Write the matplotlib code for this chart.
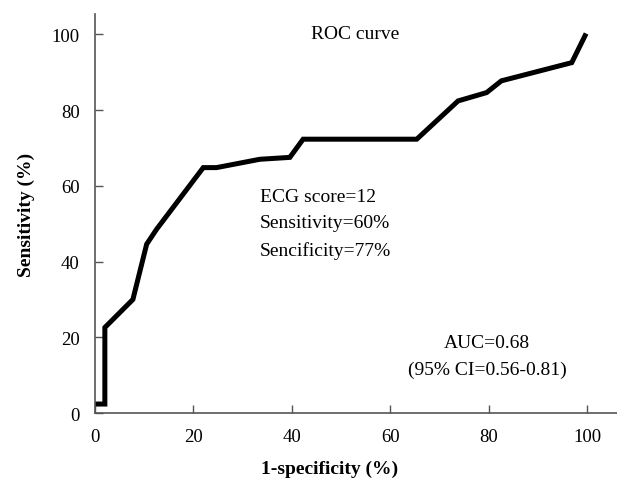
import matplotlib.pyplot as plt

# ROC curve points (1-specificity %, sensitivity %)
fpr = [0, 2.0, 2.0, 7.7, 10.5, 12.5, 22.0, 24.7, 33.5, 39.6, 42.3, 65.4, 73.8, 79.6, 82.6, 96.9, 99.6]
tpr = [2.4, 2.4, 22.6, 30.0, 44.6, 48.5, 64.8, 64.8, 67.0, 67.5, 72.3, 72.3, 82.4, 84.6, 87.7, 92.5, 99.6]

xticks = [0, 20, 40, 60, 80, 100]
yticks = [0, 20, 40, 60, 80, 100]

plt.rcParams['font.family'] = ['Liberation Serif', 'DejaVu Serif']

fig = plt.figure(figsize=(6.17, 4.81), dpi=100)
ax = fig.add_axes([0.154, 0.139, 0.846, 0.8295])

ax.plot(fpr, tpr, color='black', linewidth=3.6, solid_joinstyle='miter')

ax.set_xlim(0, 106.1)
ax.set_ylim(0, 105.3)
ax.set_xticks(xticks)
ax.set_yticks(yticks)
ax.tick_params(direction='in', length=6, width=1, color='#555555', labelsize=13.5)
ax.tick_params(axis='x', pad=11)
ax.tick_params(axis='y', pad=11)

for side in ['top', 'right']:
    ax.spines[side].set_visible(False)
for side in ['left', 'bottom']:
    ax.spines[side].set_color('#555555')
    ax.spines[side].set_linewidth(1.2)

ax.set_xlabel("1-specificity (%)", fontsize=14, fontweight='bold')
ax.xaxis.set_label_coords(0.45, -0.117)
ax.set_ylabel("Sensitivity (%)", fontsize=14, fontweight='bold', labelpad=12)

ax.text(52.8, 100.3, "ROC curve", fontsize=14, ha='center', va='center')
ax.text(33.5, 57.3, "ECG score=12", fontsize=14, ha='left', va='center')
ax.text(33.5, 50.3, "Sensitivity=60%", fontsize=14, ha='left', va='center')
ax.text(33.5, 43.0, "Sencificity=77%", fontsize=14, ha='left', va='center')
ax.text(79.7, 18.7, "AUC=0.68", fontsize=14, ha='center', va='center')
ax.text(79.7, 11.6, "(95% CI=0.56-0.81)", fontsize=14, ha='center', va='center')

plt.savefig("out.png", dpi=100)
